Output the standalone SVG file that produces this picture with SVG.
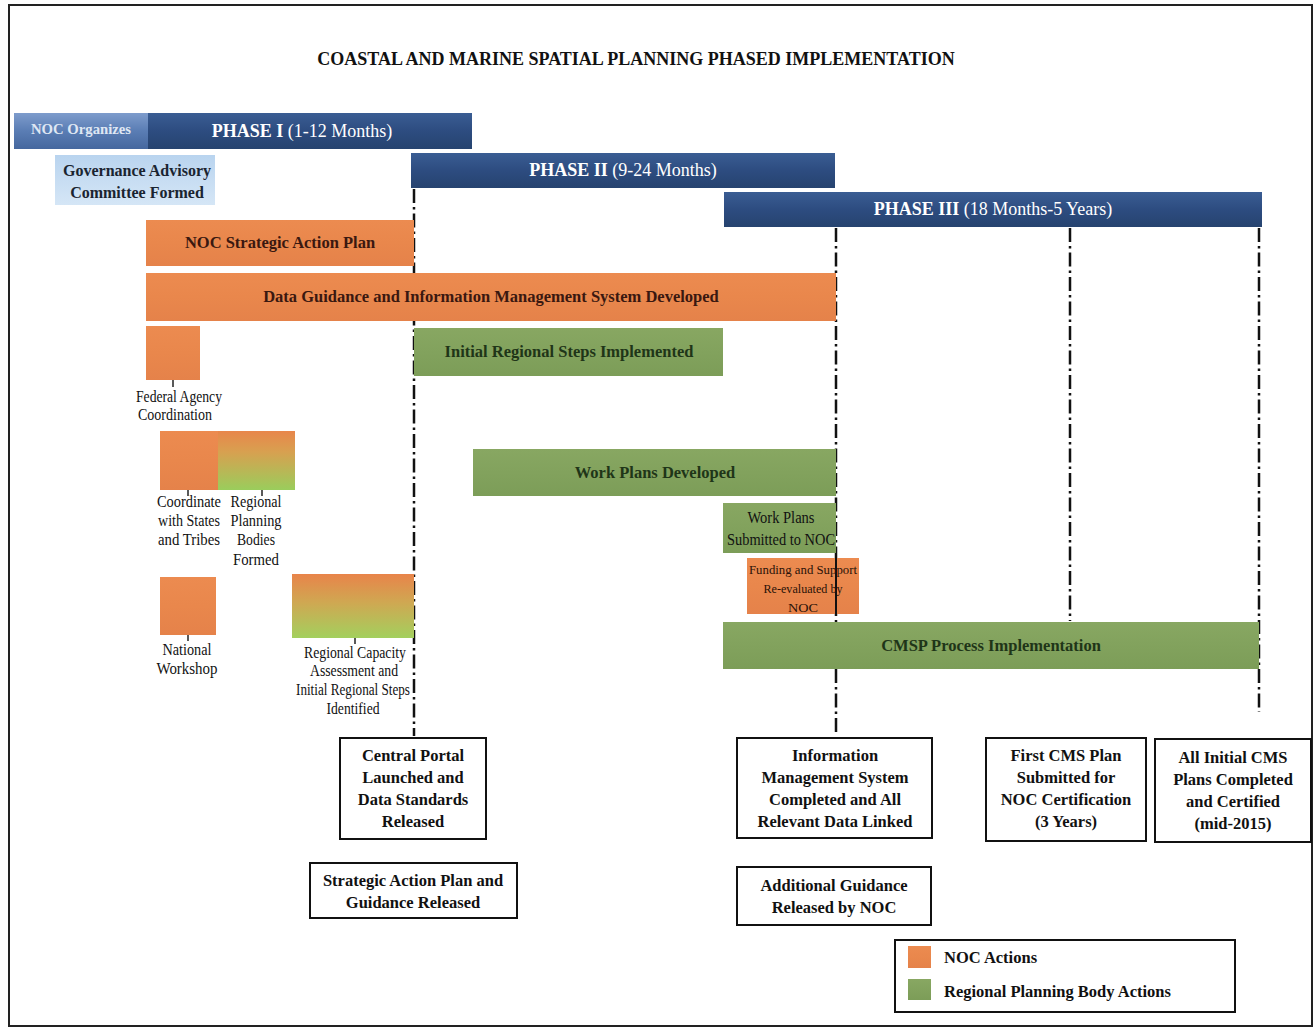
<svg xmlns="http://www.w3.org/2000/svg" width="1315" height="1029" viewBox="0 0 1315 1029">
<defs>
<linearGradient id="og" x1="0" y1="0" x2="0" y2="1"><stop offset="0" stop-color="#ec8b50"/><stop offset="0.5" stop-color="#e9874c"/><stop offset="1" stop-color="#e5824a"/></linearGradient>
<linearGradient id="gg" x1="0" y1="0" x2="0" y2="1"><stop offset="0" stop-color="#88a762"/><stop offset="1" stop-color="#7c9d58"/></linearGradient>
<linearGradient id="bg" x1="0" y1="0" x2="0" y2="1"><stop offset="0" stop-color="#3a5d93"/><stop offset="0.5" stop-color="#2d4c80"/><stop offset="1" stop-color="#26436f"/></linearGradient>
<linearGradient id="nog" x1="0" y1="0" x2="0" y2="1"><stop offset="0" stop-color="#7e9ccc"/><stop offset="0.5" stop-color="#5a7db4"/><stop offset="1" stop-color="#45679e"/></linearGradient>
<linearGradient id="gac" x1="0" y1="0" x2="0" y2="1"><stop offset="0" stop-color="#b9d4ef"/><stop offset="1" stop-color="#d5e6f6"/></linearGradient>
<linearGradient id="og2" x1="0" y1="0" x2="0" y2="1"><stop offset="0" stop-color="#e8864b"/><stop offset="0.35" stop-color="#d8a050"/><stop offset="1" stop-color="#9acd5c"/></linearGradient>
<linearGradient id="og3" x1="0" y1="0" x2="0" y2="1"><stop offset="0" stop-color="#e8844a"/><stop offset="0.45" stop-color="#cfa852"/><stop offset="1" stop-color="#a3d05e"/></linearGradient>
</defs>
<style>
.o{fill:url(#og);}
.g{fill:url(#gg);}
.ph{fill:url(#bg);}
.t{font-family:"Liberation Serif","Times New Roman",serif;}
.title{font-size:18px;font-weight:bold;fill:#111;}
.pht{font-size:18px;fill:#fff;}
.bo{font-size:16.5px;font-weight:bold;fill:#3a1810;}
.bgr{font-size:16.5px;font-weight:bold;fill:#1f3518;}
.sm{font-size:16px;fill:#111;}
.box{fill:#fff;stroke:#111;stroke-width:2;}
.bx{font-size:16.5px;font-weight:bold;fill:#111;}
.dd{stroke:#111;stroke-width:2.5;stroke-dasharray:14 4 2.5 4;fill:none;}
.tick{stroke:#222;stroke-width:1.5;}
</style>
<rect x="0" y="0" width="1315" height="1029" fill="#fff"/>
<rect x="9" y="5" width="1303" height="1021" fill="none" stroke="#222" stroke-width="2"/>
<text class="t title" x="636" y="65" text-anchor="middle">COASTAL AND MARINE SPATIAL PLANNING PHASED IMPLEMENTATION</text>

<g id="connectors">
<line class="dd" x1="414" y1="189" x2="414" y2="736"/>
<line class="dd" x1="836" y1="228" x2="836" y2="736"/>
<line class="dd" x1="1070" y1="228" x2="1070" y2="621"/>
<line class="dd" x1="1259" y1="228" x2="1259" y2="712"/>
<line class="tick" x1="173" y1="380" x2="173" y2="387"/>
<line class="tick" x1="188" y1="490" x2="188" y2="496"/>
<line class="tick" x1="262" y1="490" x2="262" y2="496"/>
<line class="tick" x1="188" y1="635" x2="188" y2="641"/>
<line class="tick" x1="355" y1="638" x2="355" y2="644"/>
</g>

<g id="noc-organizes"><rect x="14" y="113" width="134" height="36" fill="url(#nog)"/><text class="t" x="81" y="134" text-anchor="middle" font-size="14" font-weight="bold" fill="#dfe7f3" textLength="100" lengthAdjust="spacingAndGlyphs">NOC Organizes</text></g>
<g id="phase1"><rect class="ph" x="148" y="113" width="324" height="36"/><text class="t pht" x="302" y="137" text-anchor="middle"><tspan font-weight="bold">PHASE I</tspan> (1-12 Months)</text></g>
<g id="governance"><rect x="55" y="155" width="160" height="50" fill="url(#gac)"/><text class="t" x="137" y="176" text-anchor="middle" font-size="16" font-weight="bold" fill="#1a2430">Governance Advisory</text><text class="t" x="137" y="198" text-anchor="middle" font-size="16" font-weight="bold" fill="#1a2430">Committee Formed</text></g>
<g id="phase2"><rect class="ph" x="411" y="153" width="424" height="35"/><text class="t pht" x="623" y="176" text-anchor="middle"><tspan font-weight="bold">PHASE II</tspan> (9-24 Months)</text></g>
<g id="phase3"><rect class="ph" x="724" y="192" width="538" height="35"/><text class="t pht" x="993" y="215" text-anchor="middle"><tspan font-weight="bold">PHASE III</tspan> (18 Months-5 Years)</text></g>

<g id="noc-sap"><rect class="o" x="146" y="220" width="268" height="46"/><text class="t bo" x="280" y="248" text-anchor="middle">NOC Strategic Action Plan</text></g>
<g id="data-guidance"><rect class="o" x="146" y="273" width="690" height="48"/><text class="t bo" x="491" y="302" text-anchor="middle">Data Guidance and Information Management System Developed</text></g>
<g id="federal-agency"><rect class="o" x="146" y="326" width="54" height="54"/><text class="t sm" x="179" y="402" text-anchor="middle" textLength="86" lengthAdjust="spacingAndGlyphs">Federal Agency</text><text class="t sm" x="175" y="420" text-anchor="middle" textLength="74" lengthAdjust="spacingAndGlyphs">Coordination</text></g>
<g id="initial-regional"><rect class="g" x="414" y="328" width="309" height="48"/><text class="t bgr" x="569" y="357" text-anchor="middle">Initial Regional Steps Implemented</text></g>
<g id="coordinate-states"><rect class="o" x="160" y="431" width="58" height="59"/><text class="t sm" x="189" y="507" text-anchor="middle" textLength="64" lengthAdjust="spacingAndGlyphs">Coordinate</text><text class="t sm" x="189" y="526" text-anchor="middle" textLength="62" lengthAdjust="spacingAndGlyphs">with States</text><text class="t sm" x="189" y="545" text-anchor="middle" textLength="62" lengthAdjust="spacingAndGlyphs">and Tribes</text></g>
<g id="rpb-formed"><rect x="218" y="431" width="77" height="59" fill="url(#og2)"/><text class="t sm" x="256" y="507" text-anchor="middle" textLength="51" lengthAdjust="spacingAndGlyphs">Regional</text><text class="t sm" x="256" y="526" text-anchor="middle" textLength="51" lengthAdjust="spacingAndGlyphs">Planning</text><text class="t sm" x="256" y="545" text-anchor="middle" textLength="38" lengthAdjust="spacingAndGlyphs">Bodies</text><text class="t sm" x="256" y="565" text-anchor="middle" textLength="46" lengthAdjust="spacingAndGlyphs">Formed</text></g>
<g id="work-plans"><rect class="g" x="473" y="449" width="363" height="47"/><text class="t bgr" x="655" y="478" text-anchor="middle">Work Plans Developed</text></g>
<g id="work-plans-submitted"><rect class="g" x="723" y="503" width="113" height="50"/><text class="t sm" x="781" y="523" text-anchor="middle" fill="#1a2e14" textLength="67" lengthAdjust="spacingAndGlyphs">Work Plans</text><text class="t sm" x="781" y="545" text-anchor="middle" fill="#1a2e14" textLength="108" lengthAdjust="spacingAndGlyphs">Submitted to NOC</text></g>
<g id="funding"><rect class="o" x="747" y="558" width="112" height="56"/><line x1="836" y1="558" x2="836" y2="614" stroke="#111" stroke-width="2"/><text class="t" x="803" y="574" text-anchor="middle" font-size="13.5" fill="#2a1208" textLength="108" lengthAdjust="spacingAndGlyphs">Funding and Support</text><text class="t" x="803" y="593" text-anchor="middle" font-size="13.5" fill="#2a1208" textLength="79" lengthAdjust="spacingAndGlyphs">Re-evaluated by</text><text class="t" x="803" y="612" text-anchor="middle" font-size="13.5" fill="#2a1208" textLength="30" lengthAdjust="spacingAndGlyphs">NOC</text></g>
<g id="national-workshop"><rect class="o" x="160" y="577" width="56" height="58"/><text class="t sm" x="187" y="655" text-anchor="middle" textLength="49" lengthAdjust="spacingAndGlyphs">National</text><text class="t sm" x="187" y="674" text-anchor="middle" textLength="61" lengthAdjust="spacingAndGlyphs">Workshop</text></g>
<g id="regional-capacity"><rect x="292" y="574" width="122" height="64" fill="url(#og3)"/><text class="t sm" x="355" y="658" text-anchor="middle" textLength="102" lengthAdjust="spacingAndGlyphs">Regional Capacity</text><text class="t sm" x="354" y="676" text-anchor="middle" textLength="88" lengthAdjust="spacingAndGlyphs">Assessment and</text><text class="t sm" x="353" y="695" text-anchor="middle" textLength="114" lengthAdjust="spacingAndGlyphs">Initial Regional Steps</text><text class="t sm" x="353" y="714" text-anchor="middle" textLength="53" lengthAdjust="spacingAndGlyphs">Identified</text></g>
<g id="cmsp"><rect class="g" x="723" y="622" width="536" height="47"/><text class="t bgr" x="991" y="651" text-anchor="middle">CMSP Process Implementation</text></g>

<g id="central-portal"><rect class="box" x="340" y="738" width="146" height="101"/><text class="t bx" x="413" y="761" text-anchor="middle">Central Portal</text><text class="t bx" x="413" y="783" text-anchor="middle">Launched and</text><text class="t bx" x="413" y="805" text-anchor="middle">Data Standards</text><text class="t bx" x="413" y="827" text-anchor="middle">Released</text></g>
<g id="sap-released"><rect class="box" x="310" y="863" width="207" height="55"/><text class="t bx" x="413" y="886" text-anchor="middle">Strategic Action Plan and</text><text class="t bx" x="413" y="908" text-anchor="middle">Guidance Released</text></g>
<g id="ims-completed"><rect class="box" x="737" y="738" width="195" height="100"/><text class="t bx" x="835" y="761" text-anchor="middle">Information</text><text class="t bx" x="835" y="783" text-anchor="middle">Management System</text><text class="t bx" x="835" y="805" text-anchor="middle">Completed and All</text><text class="t bx" x="835" y="827" text-anchor="middle">Relevant Data Linked</text></g>
<g id="additional-guidance"><rect class="box" x="737" y="867" width="194" height="58"/><text class="t bx" x="834" y="891" text-anchor="middle">Additional Guidance</text><text class="t bx" x="834" y="913" text-anchor="middle">Released by NOC</text></g>
<g id="first-cms"><rect class="box" x="986" y="738" width="160" height="103"/><text class="t bx" x="1066" y="761" text-anchor="middle">First CMS Plan</text><text class="t bx" x="1066" y="783" text-anchor="middle">Submitted for</text><text class="t bx" x="1066" y="805" text-anchor="middle">NOC Certification</text><text class="t bx" x="1066" y="827" text-anchor="middle">(3 Years)</text></g>
<g id="all-initial-cms"><rect class="box" x="1155" y="739" width="156" height="103"/><text class="t bx" x="1233" y="763" text-anchor="middle">All Initial CMS</text><text class="t bx" x="1233" y="785" text-anchor="middle">Plans Completed</text><text class="t bx" x="1233" y="807" text-anchor="middle">and Certified</text><text class="t bx" x="1233" y="829" text-anchor="middle">(mid-2015)</text></g>

<g id="legend"><rect class="box" x="895" y="940" width="340" height="72"/><rect class="o" x="908" y="946" width="23" height="22"/><rect class="g" x="908" y="979" width="23" height="21"/><text class="t bx" x="944" y="963">NOC Actions</text><text class="t bx" x="944" y="997">Regional Planning Body Actions</text></g>
</svg>
